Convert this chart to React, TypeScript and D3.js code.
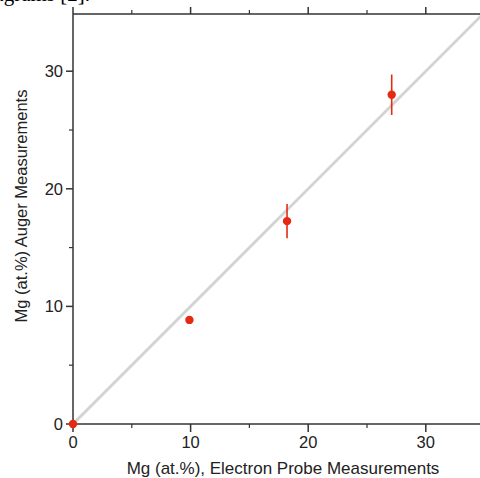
import React from "react";
import * as d3 from "d3";

const probeX = [0, 9.9, 18.2, 27.1];
const augerY = [0, 8.85, 17.25, 28.0];
const augerErr = [0, 0, 1.45, 1.72];
const majorTicks = [0, 10, 20, 30];
const minorTicks = [5, 15, 25];
const xTitle = "Mg (at.%), Electron Probe Measurements";
const yTitle = "Mg (at.%) Auger Measurements";
const topText = "diagrams [2].";

export default function App() {
  const W = 480, H = 478;
  const x = d3.scaleLinear().domain([0, 35]).range([73, 73 + 35 * 11.76]);
  const y = d3.scaleLinear().domain([0, 35]).range([424, 424 - 35 * 11.76]);
  const top = 14;
  const axisColor = "#333";
  const font = "'Liberation Sans', Arial, Helvetica, sans-serif";
  const red = "#e62a12";
  const diag = d3.line<number>().x((d) => x(d)).y((d) => y(d));
  return (
    <div style={{ position: "absolute", left: 0, top: 0 }}>
      <svg width={W} height={H} style={{ display: "block" }}>
        <rect width={W} height={H} fill="#fff" />
        <text x={90} y={1} textAnchor="end" fontFamily="'Liberation Serif', 'Times New Roman', serif" fontSize={21} fill="#000">
          {topText}
        </text>
        {/* diagonal reference line */}
        <path d={diag([0, 40]) || ""} stroke="#d3d3d3" strokeWidth={3} fill="none" />
        {/* axes lines */}
        <line x1={x(0)} x2={W} y1={y(0)} y2={y(0)} stroke={axisColor} strokeWidth={1.5} />
        <line x1={x(0)} x2={W} y1={top} y2={top} stroke={axisColor} strokeWidth={1.5} />
        <line x1={x(0)} x2={x(0)} y1={top} y2={y(0)} stroke={axisColor} strokeWidth={1.5} />
        {/* major ticks */}
        {majorTicks.map((t) => (
          <g key={"bx" + t}>
            <line x1={x(t)} x2={x(t)} y1={y(0)} y2={y(0) + 8} stroke={axisColor} strokeWidth={1.5} />
            <text x={x(t)} y={y(0) + 24} textAnchor="middle" fontFamily={font} fontSize={16.5} fill="#222">
              {t}
            </text>
            <line x1={x(t)} x2={x(t)} y1={top} y2={top - 7} stroke={axisColor} strokeWidth={1.5} />
            <line x1={x(0)} x2={x(0) - 7} y1={y(t)} y2={y(t)} stroke={axisColor} strokeWidth={1.5} />
            <text x={x(0) - 10} y={y(t) + 5.8} textAnchor="end" fontFamily={font} fontSize={16.5} fill="#222">
              {t}
            </text>
          </g>
        ))}
        {minorTicks.map((t) => (
          <g key={"mx" + t}>
            <line x1={x(t)} x2={x(t)} y1={y(0)} y2={y(0) + 4} stroke={axisColor} strokeWidth={1.2} />
            <line x1={x(t)} x2={x(t)} y1={top} y2={top - 4} stroke={axisColor} strokeWidth={1.2} />
            <line x1={x(0)} x2={x(0) - 4} y1={y(t)} y2={y(t)} stroke={axisColor} strokeWidth={1.2} />
          </g>
        ))}
        {/* error bars */}
        {probeX.map((px, i) =>
          augerErr[i] > 0 ? (
            <line key={"e" + i} x1={x(px)} x2={x(px)} y1={y(augerY[i] - augerErr[i])} y2={y(augerY[i] + augerErr[i])} stroke={red} strokeWidth={1.6} />
          ) : null
        )}
        {probeX.map((px, i) => (
          <circle key={"p" + i} cx={x(px)} cy={y(augerY[i])} r={4.2} fill={red} />
        ))}
        <text x={283} y={474} textAnchor="middle" fontFamily={font} fontSize={17} fill="#222">
          {xTitle}
        </text>
        <text transform={`translate(27,206) rotate(-90)`} textAnchor="middle" fontFamily={font} fontSize={16.5} fill="#222">
          {yTitle}
        </text>
      </svg>
    </div>
  );
}
